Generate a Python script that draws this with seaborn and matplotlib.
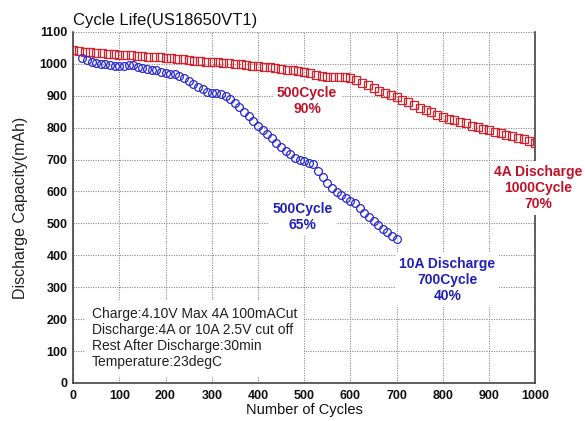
import numpy as np
import pandas as pd
import matplotlib
matplotlib.use("Agg")
import matplotlib.pyplot as plt
from matplotlib.ticker import MultipleLocator
import seaborn as sns

# ---- data ----
red_cycles = list(np.arange(0, 1000.1, 12.5))
red_capacity = [1043, 1040, 1038, 1036, 1034, 1033, 1031, 1030, 1028, 1027,
                1026, 1025, 1024, 1022, 1021, 1020, 1018, 1017, 1016, 1014,
                1012, 1010, 1008, 1007, 1006, 1005, 1004, 1002, 1000, 998,
                996, 994, 992, 991, 989, 987, 985, 982, 980, 977,
                975, 970, 966, 962, 960, 959, 958, 958, 957, 950,
                940, 933, 925, 915, 909, 902, 896, 888, 880, 871,
                863, 855, 848, 840, 833, 828, 824, 819, 813, 806,
                801, 797, 792, 787, 782, 778, 773, 768, 763, 758,
                752]

blue_cycles = list(range(20, 701, 10))
blue_capacity = [1017, 1012, 1007, 1003, 1000, 998, 996, 994, 992, 994,
                 997, 995, 990, 987, 985, 982, 979, 975, 971, 969,
                 968, 962, 955, 946, 937, 928, 920, 913, 910, 908,
                 906, 898, 889, 878, 864, 850, 835, 820, 805, 792,
                 780, 768, 753, 740, 727, 716, 706, 699, 695, 690,
                 687, 665, 645, 625, 610, 598, 588, 578, 570, 564,
                 548, 534, 520, 507, 494, 483, 472, 462, 452]

title = "Cycle Life(US18650VT1)"
x_label = "Number of Cycles"
y_label = "Discharge Capacity(mAh)"
x_ticks = [0, 100, 200, 300, 400, 500, 600, 700, 800, 900, 1000]
y_ticks = [0, 100, 200, 300, 400, 500, 600, 700, 800, 900, 1000, 1100]
conditions = ["Charge:4.10V Max 4A 100mACut",
              "Discharge:4A or 10A 2.5V cut off",
              "Rest After Discharge:30min",
              "Temperature:23degC"]

red_df = pd.DataFrame({"cycle": red_cycles, "capacity": red_capacity})
blue_df = pd.DataFrame({"cycle": blue_cycles, "capacity": blue_capacity})

# ---- style ----
sns.set_theme(style="white")
plt.rcParams["font.family"] = ["Liberation Sans", "DejaVu Sans"]

RED = "#d8202a"
BLUE = "#2a2ad0"
RED_TXT = "#c01028"
BLUE_TXT = "#2020b8"

fig = plt.figure(figsize=(5.85, 4.21), dpi=100)
ax = fig.add_axes([0.125, 0.0903, 0.79, 0.834])

sns.lineplot(data=red_df, x="cycle", y="capacity", ax=ax, linestyle="",
             marker="s", markersize=5.4, markerfacecolor="none",
             markeredgecolor=RED, markeredgewidth=0.9, zorder=3)
sns.lineplot(data=blue_df, x="cycle", y="capacity", ax=ax, linestyle="",
             marker="o", markersize=5.6, markerfacecolor="none",
             markeredgecolor=BLUE, markeredgewidth=0.9, zorder=3)

ax.set_xlim(0, 1000)
ax.set_ylim(0, 1100)
ax.set_xticks(x_ticks)
ax.set_yticks(y_ticks)
ax.yaxis.set_minor_locator(MultipleLocator(50))
ax.tick_params(axis="both", which="both", direction="in", length=4,
               width=0.9, color="#333333", labelsize=9, pad=4)
ax.tick_params(axis="y", which="minor", length=3)
ax.tick_params(axis="x", pad=5)
for lab in ax.get_xticklabels() + ax.get_yticklabels():
    lab.set_fontweight("bold")
    lab.set_color("#111111")

ax.grid(True, which="major", color="#8a8a8a", linestyle=(0, (1, 1.2)),
        linewidth=0.8)
ax.set_axisbelow(True)

for side in ["left", "bottom", "right"]:
    ax.spines[side].set_visible(True)
    ax.spines[side].set_color("#333333")
    ax.spines[side].set_linewidth(1.1)
ax.spines["top"].set_visible(False)

ax.set_title(title, loc="left", fontsize=12, pad=5, color="#111111")
ax.set_xlabel(x_label, fontsize=10.5, color="#111111", labelpad=1)
ax.set_ylabel(y_label, fontsize=11.5, color="#222222", labelpad=8)

box = dict(facecolor="white", edgecolor="none", boxstyle="square,pad=0.25")
ax.text(506, 884, "500Cycle\n90%", color=RED_TXT, fontsize=10,
        fontweight="bold", ha="center", va="center", linespacing=1.2,
        bbox=box, zorder=5)
ax.text(496, 520, "500Cycle\n65%", color=BLUE_TXT, fontsize=10,
        fontweight="bold", ha="center", va="center", linespacing=1.2,
        bbox=box, zorder=5)
ax.text(810, 323, "10A Discharge\n700Cycle\n40%", color=BLUE_TXT,
        fontsize=10, fontweight="bold", ha="center", va="center",
        linespacing=1.2, bbox=box, zorder=5)
ax.text(1006, 611, "4A Discharge\n1000Cycle\n70%", color=RED_TXT,
        fontsize=10, fontweight="bold", ha="center", va="center",
        linespacing=1.2, bbox=box, zorder=5, clip_on=False)
ax.text(41, 141, "\n".join(conditions), color="#222222", fontsize=10,
        ha="left", va="center", linespacing=1.2,
        bbox=dict(facecolor="white", edgecolor="none",
                  boxstyle="square,pad=0.5"), zorder=5)

fig.savefig("out.png", dpi=100, facecolor="white")
